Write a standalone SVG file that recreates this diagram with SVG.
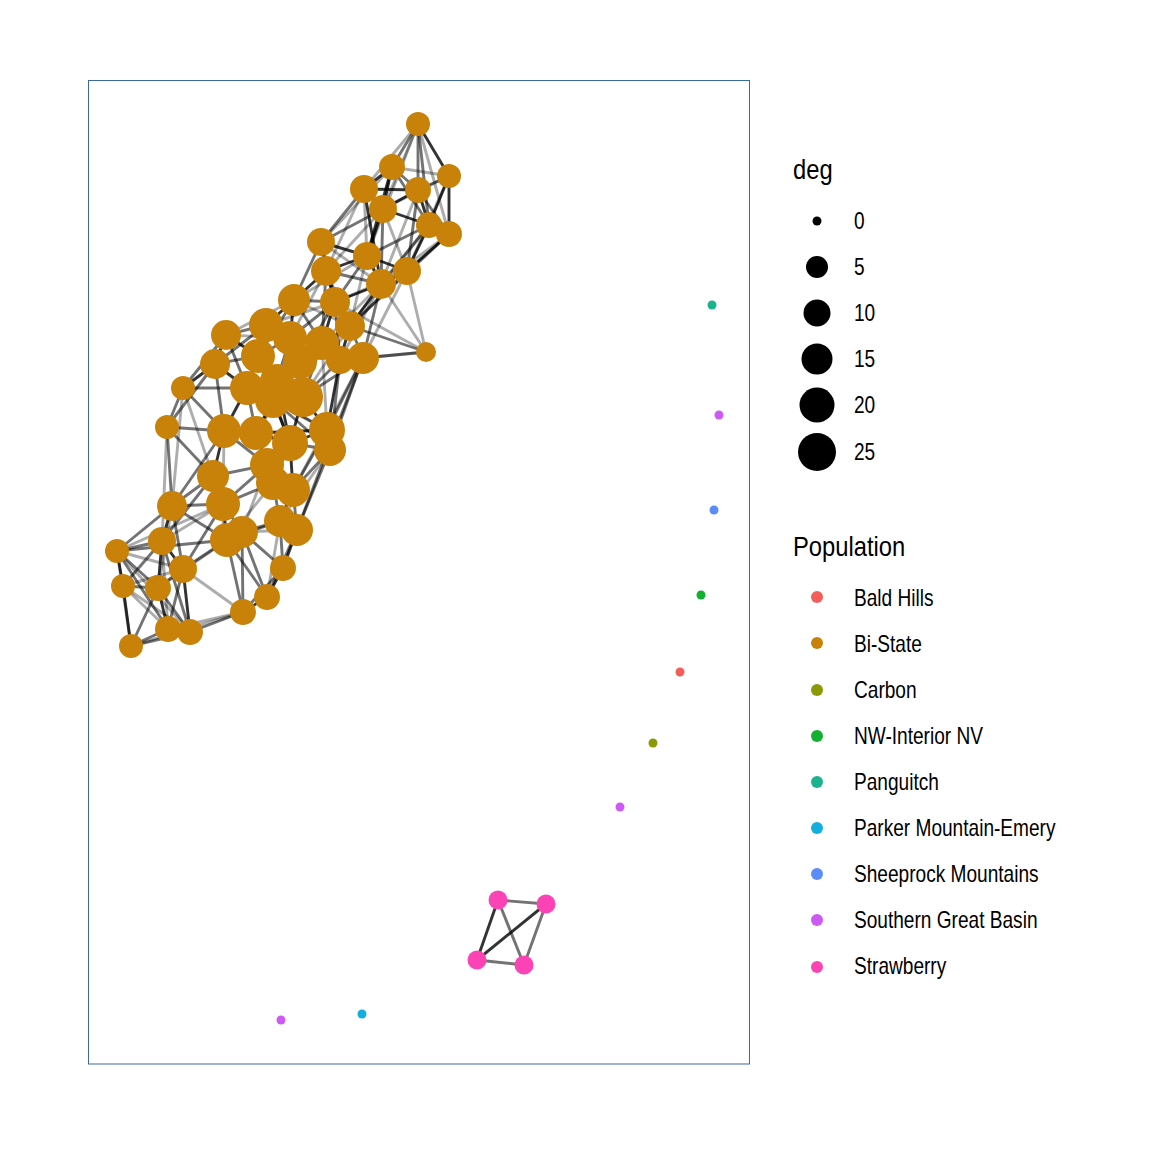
<svg xmlns="http://www.w3.org/2000/svg" width="1152" height="1152" viewBox="0 0 1152 1152">
<style>
.bg{fill:#fff}
.panel{fill:none;stroke:#3a68a3;stroke-width:1}
#edges line{stroke:#000;stroke-width:2.9}
.d{stroke-opacity:.8}.m{stroke-opacity:.55}.l{stroke-opacity:.32}
.bi{fill:#C8820A}.sb{fill:#FC43B5}
.t{font-family:"Liberation Sans",Arial,sans-serif;fill:#000}
.lab{font-size:23px}.ttl{font-size:27px}
</style>
<rect class="bg" x="0" y="0" width="1152" height="1152"/>
<rect class="panel" x="88.5" y="80.5" width="661" height="983.5"/>
<g id="edges">
<line class="m" x1="418" y1="124" x2="392" y2="167"/>
<line class="d" x1="418" y1="124" x2="449" y2="176"/>
<line class="l" x1="418" y1="124" x2="364" y2="189"/>
<line class="m" x1="418" y1="124" x2="418" y2="190"/>
<line class="l" x1="418" y1="124" x2="383" y2="209"/>
<line class="m" x1="418" y1="124" x2="429" y2="225"/>
<line class="l" x1="418" y1="124" x2="449" y2="234"/>
<line class="l" x1="418" y1="124" x2="367" y2="256"/>
<line class="l" x1="392" y1="167" x2="449" y2="176"/>
<line class="d" x1="392" y1="167" x2="364" y2="189"/>
<line class="m" x1="392" y1="167" x2="418" y2="190"/>
<line class="d" x1="392" y1="167" x2="383" y2="209"/>
<line class="m" x1="392" y1="167" x2="429" y2="225"/>
<line class="l" x1="392" y1="167" x2="321" y2="242"/>
<line class="d" x1="392" y1="167" x2="367" y2="256"/>
<line class="m" x1="449" y1="176" x2="418" y2="190"/>
<line class="l" x1="449" y1="176" x2="383" y2="209"/>
<line class="d" x1="449" y1="176" x2="429" y2="225"/>
<line class="d" x1="449" y1="176" x2="449" y2="234"/>
<line class="l" x1="449" y1="176" x2="407" y2="271"/>
<line class="d" x1="364" y1="189" x2="418" y2="190"/>
<line class="m" x1="364" y1="189" x2="383" y2="209"/>
<line class="m" x1="364" y1="189" x2="321" y2="242"/>
<line class="l" x1="364" y1="189" x2="367" y2="256"/>
<line class="l" x1="364" y1="189" x2="326" y2="271"/>
<line class="d" x1="364" y1="189" x2="381" y2="284"/>
<line class="d" x1="418" y1="190" x2="383" y2="209"/>
<line class="d" x1="418" y1="190" x2="429" y2="225"/>
<line class="m" x1="418" y1="190" x2="449" y2="234"/>
<line class="m" x1="418" y1="190" x2="407" y2="271"/>
<line class="l" x1="418" y1="190" x2="381" y2="284"/>
<line class="d" x1="383" y1="209" x2="429" y2="225"/>
<line class="m" x1="383" y1="209" x2="321" y2="242"/>
<line class="d" x1="383" y1="209" x2="367" y2="256"/>
<line class="l" x1="383" y1="209" x2="326" y2="271"/>
<line class="l" x1="383" y1="209" x2="407" y2="271"/>
<line class="m" x1="383" y1="209" x2="381" y2="284"/>
<line class="m" x1="429" y1="225" x2="449" y2="234"/>
<line class="m" x1="429" y1="225" x2="367" y2="256"/>
<line class="d" x1="429" y1="225" x2="407" y2="271"/>
<line class="m" x1="429" y1="225" x2="381" y2="284"/>
<line class="l" x1="429" y1="225" x2="350" y2="326"/>
<line class="d" x1="449" y1="234" x2="407" y2="271"/>
<line class="l" x1="449" y1="234" x2="381" y2="284"/>
<line class="m" x1="449" y1="234" x2="350" y2="326"/>
<line class="d" x1="321" y1="242" x2="367" y2="256"/>
<line class="m" x1="321" y1="242" x2="326" y2="271"/>
<line class="l" x1="321" y1="242" x2="381" y2="284"/>
<line class="m" x1="321" y1="242" x2="294" y2="300"/>
<line class="d" x1="321" y1="242" x2="335" y2="302"/>
<line class="d" x1="367" y1="256" x2="326" y2="271"/>
<line class="d" x1="367" y1="256" x2="407" y2="271"/>
<line class="d" x1="367" y1="256" x2="381" y2="284"/>
<line class="l" x1="367" y1="256" x2="294" y2="300"/>
<line class="m" x1="367" y1="256" x2="335" y2="302"/>
<line class="l" x1="367" y1="256" x2="350" y2="326"/>
<line class="m" x1="326" y1="271" x2="381" y2="284"/>
<line class="d" x1="326" y1="271" x2="294" y2="300"/>
<line class="d" x1="326" y1="271" x2="335" y2="302"/>
<line class="m" x1="326" y1="271" x2="350" y2="326"/>
<line class="l" x1="326" y1="271" x2="290" y2="338"/>
<line class="m" x1="326" y1="271" x2="322" y2="343"/>
<line class="d" x1="407" y1="271" x2="381" y2="284"/>
<line class="l" x1="407" y1="271" x2="335" y2="302"/>
<line class="m" x1="407" y1="271" x2="350" y2="326"/>
<line class="l" x1="407" y1="271" x2="426" y2="352"/>
<line class="l" x1="407" y1="271" x2="363" y2="358"/>
<line class="d" x1="381" y1="284" x2="335" y2="302"/>
<line class="d" x1="381" y1="284" x2="350" y2="326"/>
<line class="l" x1="381" y1="284" x2="426" y2="352"/>
<line class="l" x1="381" y1="284" x2="322" y2="343"/>
<line class="l" x1="381" y1="284" x2="340" y2="360"/>
<line class="m" x1="381" y1="284" x2="363" y2="358"/>
<line class="m" x1="294" y1="300" x2="335" y2="302"/>
<line class="l" x1="294" y1="300" x2="350" y2="326"/>
<line class="d" x1="294" y1="300" x2="266" y2="325"/>
<line class="l" x1="294" y1="300" x2="226" y2="335"/>
<line class="d" x1="294" y1="300" x2="290" y2="338"/>
<line class="m" x1="294" y1="300" x2="322" y2="343"/>
<line class="m" x1="294" y1="300" x2="258" y2="356"/>
<line class="d" x1="335" y1="302" x2="350" y2="326"/>
<line class="l" x1="335" y1="302" x2="426" y2="352"/>
<line class="l" x1="335" y1="302" x2="266" y2="325"/>
<line class="m" x1="335" y1="302" x2="290" y2="338"/>
<line class="d" x1="335" y1="302" x2="322" y2="343"/>
<line class="m" x1="335" y1="302" x2="340" y2="360"/>
<line class="m" x1="335" y1="302" x2="300" y2="362"/>
<line class="m" x1="350" y1="326" x2="426" y2="352"/>
<line class="d" x1="350" y1="326" x2="322" y2="343"/>
<line class="d" x1="350" y1="326" x2="340" y2="360"/>
<line class="m" x1="350" y1="326" x2="363" y2="358"/>
<line class="l" x1="350" y1="326" x2="300" y2="362"/>
<line class="l" x1="350" y1="326" x2="303" y2="397"/>
<line class="l" x1="426" y1="352" x2="340" y2="360"/>
<line class="m" x1="426" y1="352" x2="363" y2="358"/>
<line class="m" x1="266" y1="325" x2="226" y2="335"/>
<line class="d" x1="266" y1="325" x2="290" y2="338"/>
<line class="m" x1="266" y1="325" x2="215" y2="364"/>
<line class="d" x1="266" y1="325" x2="258" y2="356"/>
<line class="l" x1="266" y1="325" x2="247" y2="388"/>
<line class="l" x1="226" y1="335" x2="290" y2="338"/>
<line class="d" x1="226" y1="335" x2="215" y2="364"/>
<line class="d" x1="226" y1="335" x2="258" y2="356"/>
<line class="m" x1="226" y1="335" x2="183" y2="388"/>
<line class="m" x1="226" y1="335" x2="247" y2="388"/>
<line class="d" x1="290" y1="338" x2="322" y2="343"/>
<line class="m" x1="290" y1="338" x2="258" y2="356"/>
<line class="d" x1="290" y1="338" x2="300" y2="362"/>
<line class="m" x1="290" y1="338" x2="277" y2="381"/>
<line class="d" x1="322" y1="343" x2="340" y2="360"/>
<line class="m" x1="322" y1="343" x2="300" y2="362"/>
<line class="m" x1="322" y1="343" x2="303" y2="397"/>
<line class="l" x1="322" y1="343" x2="327" y2="430"/>
<line class="m" x1="215" y1="364" x2="258" y2="356"/>
<line class="d" x1="215" y1="364" x2="183" y2="388"/>
<line class="d" x1="215" y1="364" x2="247" y2="388"/>
<line class="m" x1="215" y1="364" x2="167" y2="427"/>
<line class="m" x1="215" y1="364" x2="224" y2="431"/>
<line class="m" x1="258" y1="356" x2="247" y2="388"/>
<line class="d" x1="258" y1="356" x2="277" y2="381"/>
<line class="m" x1="258" y1="356" x2="273" y2="400"/>
<line class="m" x1="258" y1="356" x2="290" y2="443"/>
<line class="m" x1="340" y1="360" x2="363" y2="358"/>
<line class="m" x1="340" y1="360" x2="303" y2="397"/>
<line class="d" x1="340" y1="360" x2="327" y2="430"/>
<line class="m" x1="340" y1="360" x2="330" y2="450"/>
<line class="m" x1="363" y1="358" x2="303" y2="397"/>
<line class="m" x1="363" y1="358" x2="327" y2="430"/>
<line class="m" x1="363" y1="358" x2="330" y2="450"/>
<line class="l" x1="363" y1="358" x2="293" y2="490"/>
<line class="m" x1="363" y1="358" x2="297" y2="530"/>
<line class="m" x1="300" y1="362" x2="277" y2="381"/>
<line class="d" x1="300" y1="362" x2="303" y2="397"/>
<line class="m" x1="300" y1="362" x2="256" y2="433"/>
<line class="m" x1="183" y1="388" x2="247" y2="388"/>
<line class="m" x1="183" y1="388" x2="167" y2="427"/>
<line class="m" x1="183" y1="388" x2="224" y2="431"/>
<line class="l" x1="183" y1="388" x2="213" y2="476"/>
<line class="l" x1="183" y1="388" x2="172" y2="506"/>
<line class="d" x1="247" y1="388" x2="273" y2="400"/>
<line class="d" x1="247" y1="388" x2="224" y2="431"/>
<line class="m" x1="247" y1="388" x2="256" y2="433"/>
<line class="l" x1="247" y1="388" x2="327" y2="430"/>
<line class="d" x1="277" y1="381" x2="303" y2="397"/>
<line class="m" x1="277" y1="381" x2="273" y2="400"/>
<line class="d" x1="277" y1="381" x2="290" y2="443"/>
<line class="d" x1="303" y1="397" x2="290" y2="443"/>
<line class="d" x1="303" y1="397" x2="327" y2="430"/>
<line class="m" x1="303" y1="397" x2="273" y2="400"/>
<line class="d" x1="273" y1="400" x2="256" y2="433"/>
<line class="d" x1="273" y1="400" x2="290" y2="443"/>
<line class="m" x1="273" y1="400" x2="327" y2="430"/>
<line class="m" x1="273" y1="400" x2="330" y2="450"/>
<line class="m" x1="167" y1="427" x2="224" y2="431"/>
<line class="m" x1="167" y1="427" x2="213" y2="476"/>
<line class="m" x1="167" y1="427" x2="172" y2="506"/>
<line class="l" x1="167" y1="427" x2="162" y2="541"/>
<line class="m" x1="224" y1="431" x2="256" y2="433"/>
<line class="m" x1="224" y1="431" x2="267" y2="465"/>
<line class="d" x1="224" y1="431" x2="213" y2="476"/>
<line class="m" x1="224" y1="431" x2="172" y2="506"/>
<line class="l" x1="224" y1="431" x2="223" y2="504"/>
<line class="d" x1="256" y1="433" x2="290" y2="443"/>
<line class="d" x1="256" y1="433" x2="267" y2="465"/>
<line class="m" x1="256" y1="433" x2="273" y2="483"/>
<line class="d" x1="256" y1="433" x2="327" y2="430"/>
<line class="d" x1="290" y1="443" x2="327" y2="430"/>
<line class="m" x1="290" y1="443" x2="330" y2="450"/>
<line class="m" x1="290" y1="443" x2="267" y2="465"/>
<line class="m" x1="290" y1="443" x2="273" y2="483"/>
<line class="d" x1="290" y1="443" x2="293" y2="490"/>
<line class="d" x1="327" y1="430" x2="330" y2="450"/>
<line class="m" x1="327" y1="430" x2="293" y2="490"/>
<line class="m" x1="330" y1="450" x2="293" y2="490"/>
<line class="m" x1="330" y1="450" x2="297" y2="530"/>
<line class="l" x1="330" y1="450" x2="280" y2="521"/>
<line class="m" x1="267" y1="465" x2="213" y2="476"/>
<line class="d" x1="267" y1="465" x2="273" y2="483"/>
<line class="m" x1="267" y1="465" x2="293" y2="490"/>
<line class="m" x1="267" y1="465" x2="223" y2="504"/>
<line class="l" x1="267" y1="465" x2="242" y2="532"/>
<line class="m" x1="213" y1="476" x2="172" y2="506"/>
<line class="d" x1="213" y1="476" x2="223" y2="504"/>
<line class="m" x1="213" y1="476" x2="162" y2="541"/>
<line class="l" x1="213" y1="476" x2="227" y2="540"/>
<line class="d" x1="273" y1="483" x2="293" y2="490"/>
<line class="m" x1="273" y1="483" x2="223" y2="504"/>
<line class="m" x1="273" y1="483" x2="280" y2="521"/>
<line class="l" x1="273" y1="483" x2="227" y2="540"/>
<line class="d" x1="293" y1="490" x2="280" y2="521"/>
<line class="m" x1="293" y1="490" x2="297" y2="530"/>
<line class="m" x1="172" y1="506" x2="223" y2="504"/>
<line class="m" x1="172" y1="506" x2="227" y2="540"/>
<line class="d" x1="172" y1="506" x2="162" y2="541"/>
<line class="m" x1="172" y1="506" x2="117" y2="551"/>
<line class="m" x1="172" y1="506" x2="183" y2="569"/>
<line class="l" x1="172" y1="506" x2="158" y2="588"/>
<line class="d" x1="223" y1="504" x2="227" y2="540"/>
<line class="m" x1="223" y1="504" x2="242" y2="532"/>
<line class="m" x1="223" y1="504" x2="183" y2="569"/>
<line class="l" x1="223" y1="504" x2="162" y2="541"/>
<line class="d" x1="280" y1="521" x2="297" y2="530"/>
<line class="m" x1="280" y1="521" x2="227" y2="540"/>
<line class="m" x1="280" y1="521" x2="242" y2="532"/>
<line class="m" x1="280" y1="521" x2="283" y2="568"/>
<line class="l" x1="280" y1="521" x2="267" y2="597"/>
<line class="d" x1="297" y1="530" x2="283" y2="568"/>
<line class="m" x1="297" y1="530" x2="267" y2="597"/>
<line class="l" x1="297" y1="530" x2="242" y2="532"/>
<line class="d" x1="227" y1="540" x2="242" y2="532"/>
<line class="m" x1="227" y1="540" x2="183" y2="569"/>
<line class="m" x1="227" y1="540" x2="267" y2="597"/>
<line class="m" x1="227" y1="540" x2="243" y2="612"/>
<line class="l" x1="227" y1="540" x2="158" y2="588"/>
<line class="m" x1="242" y1="532" x2="283" y2="568"/>
<line class="m" x1="242" y1="532" x2="267" y2="597"/>
<line class="m" x1="242" y1="532" x2="243" y2="612"/>
<line class="m" x1="162" y1="541" x2="117" y2="551"/>
<line class="d" x1="162" y1="541" x2="183" y2="569"/>
<line class="m" x1="162" y1="541" x2="123" y2="586"/>
<line class="d" x1="162" y1="541" x2="158" y2="588"/>
<line class="m" x1="162" y1="541" x2="190" y2="632"/>
<line class="l" x1="162" y1="541" x2="168" y2="629"/>
<line class="d" x1="117" y1="551" x2="123" y2="586"/>
<line class="m" x1="117" y1="551" x2="158" y2="588"/>
<line class="m" x1="117" y1="551" x2="168" y2="629"/>
<line class="l" x1="117" y1="551" x2="131" y2="646"/>
<line class="l" x1="117" y1="551" x2="183" y2="569"/>
<line class="l" x1="117" y1="551" x2="190" y2="632"/>
<line class="m" x1="117" y1="551" x2="227" y2="540"/>
<line class="l" x1="117" y1="551" x2="223" y2="504"/>
<line class="m" x1="183" y1="569" x2="158" y2="588"/>
<line class="m" x1="183" y1="569" x2="168" y2="629"/>
<line class="d" x1="183" y1="569" x2="190" y2="632"/>
<line class="l" x1="183" y1="569" x2="243" y2="612"/>
<line class="l" x1="183" y1="569" x2="123" y2="586"/>
<line class="d" x1="283" y1="568" x2="267" y2="597"/>
<line class="m" x1="283" y1="568" x2="243" y2="612"/>
<line class="m" x1="123" y1="586" x2="158" y2="588"/>
<line class="l" x1="123" y1="586" x2="168" y2="629"/>
<line class="d" x1="123" y1="586" x2="131" y2="646"/>
<line class="l" x1="123" y1="586" x2="190" y2="632"/>
<line class="d" x1="158" y1="588" x2="168" y2="629"/>
<line class="m" x1="158" y1="588" x2="190" y2="632"/>
<line class="m" x1="158" y1="588" x2="131" y2="646"/>
<line class="d" x1="267" y1="597" x2="243" y2="612"/>
<line class="m" x1="243" y1="612" x2="190" y2="632"/>
<line class="l" x1="243" y1="612" x2="168" y2="629"/>
<line class="d" x1="168" y1="629" x2="190" y2="632"/>
<line class="m" x1="168" y1="629" x2="131" y2="646"/>
<line class="m" x1="190" y1="632" x2="131" y2="646"/>
<line class="l" x1="131" y1="646" x2="243" y2="612"/>
<line class="m" x1="498" y1="900" x2="546" y2="904"/>
<line class="d" x1="498" y1="900" x2="477" y2="960"/>
<line class="m" x1="498" y1="900" x2="524" y2="965"/>
<line class="d" x1="546" y1="904" x2="477" y2="960"/>
<line class="m" x1="546" y1="904" x2="524" y2="965"/>
<line class="m" x1="477" y1="960" x2="524" y2="965"/>
</g>
<g id="nodes">
<g id="b1"><circle class="bi" cx="418" cy="124" r="12"/></g>
<g id="b2"><circle class="bi" cx="392" cy="167" r="13"/></g>
<g id="b3"><circle class="bi" cx="449" cy="176" r="12"/></g>
<g id="b4"><circle class="bi" cx="364" cy="189" r="14"/></g>
<g id="b5"><circle class="bi" cx="418" cy="190" r="13"/></g>
<g id="b6"><circle class="bi" cx="383" cy="209" r="14"/></g>
<g id="b7"><circle class="bi" cx="429" cy="225" r="13"/></g>
<g id="b8"><circle class="bi" cx="449" cy="234" r="13"/></g>
<g id="b9"><circle class="bi" cx="321" cy="242" r="14"/></g>
<g id="b10"><circle class="bi" cx="367" cy="256" r="14"/></g>
<g id="b11"><circle class="bi" cx="326" cy="271" r="15"/></g>
<g id="b12"><circle class="bi" cx="407" cy="271" r="14"/></g>
<g id="b13"><circle class="bi" cx="381" cy="284" r="15"/></g>
<g id="b14"><circle class="bi" cx="294" cy="300" r="16"/></g>
<g id="b15"><circle class="bi" cx="335" cy="302" r="15"/></g>
<g id="b16"><circle class="bi" cx="350" cy="326" r="15"/></g>
<g id="b17"><circle class="bi" cx="426" cy="352" r="10"/></g>
<g id="b18"><circle class="bi" cx="266" cy="325" r="17"/></g>
<g id="b19"><circle class="bi" cx="226" cy="335" r="15"/></g>
<g id="b20"><circle class="bi" cx="290" cy="338" r="17"/></g>
<g id="b21"><circle class="bi" cx="322" cy="343" r="17"/></g>
<g id="b22"><circle class="bi" cx="215" cy="364" r="15"/></g>
<g id="b23"><circle class="bi" cx="258" cy="356" r="17"/></g>
<g id="b24"><circle class="bi" cx="340" cy="360" r="14"/></g>
<g id="b25"><circle class="bi" cx="363" cy="358" r="16"/></g>
<g id="b26"><circle class="bi" cx="300" cy="362" r="17"/></g>
<g id="b27"><circle class="bi" cx="183" cy="388" r="12"/></g>
<g id="b28"><circle class="bi" cx="247" cy="388" r="17"/></g>
<g id="b29"><circle class="bi" cx="277" cy="381" r="17"/></g>
<g id="b30"><circle class="bi" cx="303" cy="397" r="20"/></g>
<g id="b31"><circle class="bi" cx="273" cy="400" r="18"/></g>
<g id="b32"><circle class="bi" cx="167" cy="427" r="12"/></g>
<g id="b33"><circle class="bi" cx="224" cy="431" r="17"/></g>
<g id="b34"><circle class="bi" cx="256" cy="433" r="17"/></g>
<g id="b35"><circle class="bi" cx="290" cy="443" r="18"/></g>
<g id="b36"><circle class="bi" cx="327" cy="430" r="18"/></g>
<g id="b37"><circle class="bi" cx="330" cy="450" r="16"/></g>
<g id="b38"><circle class="bi" cx="267" cy="465" r="17"/></g>
<g id="b39"><circle class="bi" cx="213" cy="476" r="16"/></g>
<g id="b40"><circle class="bi" cx="273" cy="483" r="17"/></g>
<g id="b41"><circle class="bi" cx="293" cy="490" r="17"/></g>
<g id="b42"><circle class="bi" cx="172" cy="506" r="15"/></g>
<g id="b43"><circle class="bi" cx="223" cy="504" r="17"/></g>
<g id="b44"><circle class="bi" cx="280" cy="521" r="16"/></g>
<g id="b45"><circle class="bi" cx="297" cy="530" r="16"/></g>
<g id="b46"><circle class="bi" cx="227" cy="540" r="17"/></g>
<g id="b47"><circle class="bi" cx="242" cy="532" r="16"/></g>
<g id="b48"><circle class="bi" cx="162" cy="541" r="14"/></g>
<g id="b49"><circle class="bi" cx="117" cy="551" r="12"/></g>
<g id="b50"><circle class="bi" cx="183" cy="569" r="14"/></g>
<g id="b51"><circle class="bi" cx="283" cy="568" r="13"/></g>
<g id="b52"><circle class="bi" cx="123" cy="586" r="12"/></g>
<g id="b53"><circle class="bi" cx="158" cy="588" r="13"/></g>
<g id="b54"><circle class="bi" cx="267" cy="597" r="13"/></g>
<g id="b55"><circle class="bi" cx="243" cy="612" r="13"/></g>
<g id="b56"><circle class="bi" cx="168" cy="629" r="13"/></g>
<g id="b57"><circle class="bi" cx="190" cy="632" r="13"/></g>
<g id="b58"><circle class="bi" cx="131" cy="646" r="12"/></g>
<g id="s1"><circle class="sb" cx="498" cy="900" r="9.5"/></g>
<g id="s2"><circle class="sb" cx="546" cy="904" r="9.5"/></g>
<g id="s3"><circle class="sb" cx="477" cy="960" r="9.5"/></g>
<g id="s4"><circle class="sb" cx="524" cy="965" r="9.5"/></g>
<g id="pg"><circle cx="712" cy="305" r="4.5" fill="#1AB38E"/></g>
<g id="sgb1"><circle cx="719" cy="415" r="4.5" fill="#CE5AF5"/></g>
<g id="shr"><circle cx="714" cy="510" r="4.5" fill="#5B8DFA"/></g>
<g id="nw"><circle cx="701" cy="595" r="4.5" fill="#12B030"/></g>
<g id="bh"><circle cx="680" cy="672" r="4.5" fill="#F35E5A"/></g>
<g id="cb"><circle cx="653" cy="743" r="4.5" fill="#8A9A06"/></g>
<g id="sgb2"><circle cx="620" cy="807" r="4.5" fill="#CE5AF5"/></g>
<g id="sgb3"><circle cx="281" cy="1020" r="4.5" fill="#CE5AF5"/></g>
<g id="pme"><circle cx="362" cy="1014" r="4.5" fill="#12AEDD"/></g>
</g>
<g id="legend-deg">
<g transform="translate(793 0) scale(0.88 1)"><text class="t ttl" x="0" y="179">deg</text></g>
<circle cx="817" cy="221" r="4.5"/>
<circle cx="817" cy="267" r="11"/>
<circle cx="817" cy="313" r="13.5"/>
<circle cx="817" cy="359" r="15.5"/>
<circle cx="817" cy="405" r="17.5"/>
<circle cx="817" cy="452" r="19"/>
<g transform="translate(854 0) scale(0.83 1)">
<text class="t lab" x="0" y="229">0</text>
<text class="t lab" x="0" y="275">5</text>
<text class="t lab" x="0" y="321">10</text>
<text class="t lab" x="0" y="367">15</text>
<text class="t lab" x="0" y="413">20</text>
<text class="t lab" x="0" y="460">25</text>
</g>
</g>
<g id="legend-pop">
<g transform="translate(793 0) scale(0.88 1)"><text class="t ttl" x="0" y="556">Population</text></g>
<circle cx="817" cy="597" r="6" fill="#F35E5A"/>
<circle cx="817" cy="643" r="6" fill="#C8820A"/>
<circle cx="817" cy="690" r="6" fill="#8A9A06"/>
<circle cx="817" cy="736" r="6" fill="#12B030"/>
<circle cx="817" cy="782" r="6" fill="#1AB38E"/>
<circle cx="817" cy="828" r="6" fill="#12AEDD"/>
<circle cx="817" cy="874" r="6" fill="#5B8DFA"/>
<circle cx="817" cy="920" r="6" fill="#CE5AF5"/>
<circle cx="817" cy="967" r="6" fill="#FC43B5"/>
<g transform="translate(854 0) scale(0.83 1)">
<text class="t lab" x="0" y="606">Bald Hills</text>
<text class="t lab" x="0" y="652">Bi-State</text>
<text class="t lab" x="0" y="698">Carbon</text>
<text class="t lab" x="0" y="744">NW-Interior NV</text>
<text class="t lab" x="0" y="790">Panguitch</text>
<text class="t lab" x="0" y="836">Parker Mountain-Emery</text>
<text class="t lab" x="0" y="882">Sheeprock Mountains</text>
<text class="t lab" x="0" y="928">Southern Great Basin</text>
<text class="t lab" x="0" y="974">Strawberry</text>
</g>
</g>
</svg>
